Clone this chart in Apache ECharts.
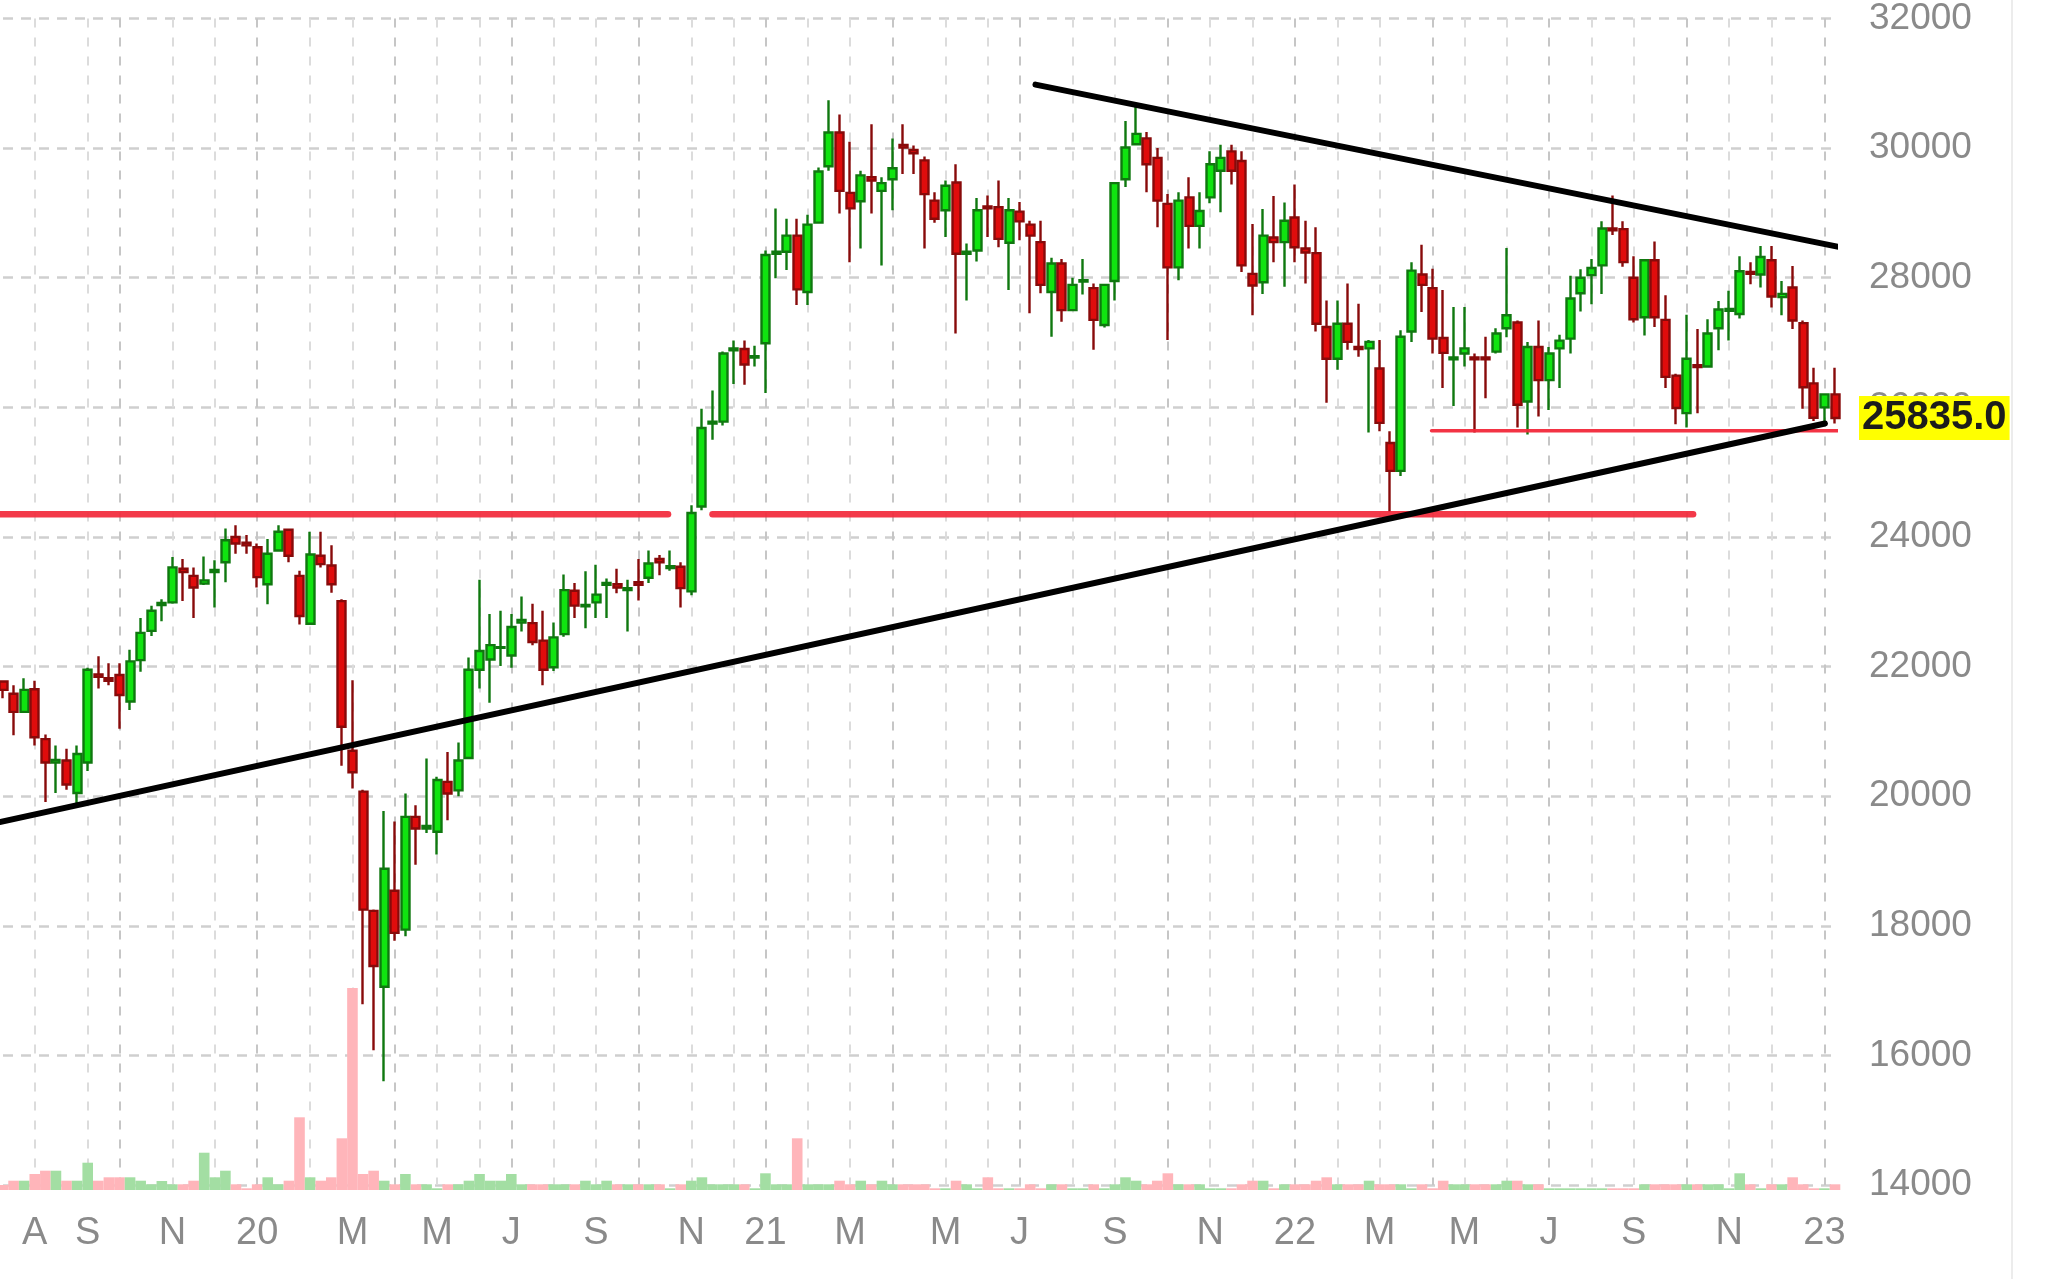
<!DOCTYPE html>
<html><head><meta charset="utf-8">
<script src="https://cdn.jsdelivr.net/npm/echarts@6/dist/echarts.min.js"></script>
<style>html,body{margin:0;padding:0;background:#fff}#c{width:2047px;height:1279px}</style>
</head><body><div id="c"></div>
<script>
// Weekly OHLC (one candle per week)
const opens = [21770,21580,21300,21650,20880,20520,20550,20050,20520,21880,
21820,21870,21460,22100,22550,22950,22990,23510,23400,23280,
23460,23610,24000,23910,23840,23270,23790,24110,23400,22660,
23710,23560,23010,20700,20070,18230,17060,18540,17940,19680,
19500,19450,20220,20090,20590,21950,22110,22290,22170,22680,
22670,22400,21990,22500,23170,22930,22990,23260,23270,23180,
23300,23370,23660,23520,23540,23160,24470,25750,25780,26880,
26900,26770,26990,28370,28400,28650,27780,28850,29720,30240,
29310,29180,29550,29340,29520,30050,29970,29810,29190,29040,
29470,28370,28420,29100,29090,28540,29020,28820,28550,27780,
28220,27500,27940,27840,27270,27950,29520,30060,30150,29850,
29140,28160,29240,28800,29240,29650,29950,29800,28060,27930,
28620,28550,28930,28450,28380,27240,26750,27290,26930,26910,
26600,25450,25020,27170,28050,27840,27070,26740,26830,26770,
26770,26860,27220,27310,26090,26930,26420,26910,27060,27760,
28040,28190,28760,28750,28000,27390,28270,27350,26490,25910,
26650,26630,27220,27490,27440,28090,28050,28270,27700,27850,
27300,26370,26000,26200];
const closes = [21640,21300,21640,20910,20520,20560,20180,20650,21950,21840,
21780,21560,22080,22520,22860,22980,23530,23460,23220,23330,
23490,23950,23900,23870,23380,23740,24080,23710,22780,23730,
23580,23270,21070,20370,18250,17380,18880,17890,19680,19500,
19540,20250,20040,20550,21950,22240,22330,22300,22610,22720,
22380,21950,22450,23180,22940,22950,23110,23290,23220,23210,
23260,23590,23610,23550,23210,24370,25680,25780,26830,26910,
26660,26790,28350,28400,28650,27820,28820,29640,30240,29340,
29070,29580,29500,29460,29690,30010,29920,29290,28910,29420,
28370,28400,29040,29070,28600,29040,28870,28650,27890,28220,
27500,27890,27960,27350,27890,29460,30010,30220,29750,29190,
28160,29190,28800,29030,29750,29850,29650,28190,27880,28650,
28550,28880,28470,28390,27290,26750,27290,27010,26900,27010,
25760,25020,27090,28110,27890,27060,26840,26770,26910,26740,
26740,27140,27420,26040,26930,26420,26830,27030,27680,28000,
28150,28760,28730,28240,27360,28270,27390,26470,25990,26750,
26620,27140,27510,27520,28100,28060,28320,27710,27750,27340,
26310,25840,26200,25835];
const lows = [21510,20940,21300,20780,19910,20050,20100,19860,20390,21660,
21710,21040,21330,21920,22470,22700,22970,23010,22750,23260,
22910,23300,23740,23740,23220,22960,23770,23610,22650,22660,
23530,23140,20470,20120,16790,16080,15600,17770,17840,18940,
19430,19100,19630,20000,20590,21660,21440,22010,21980,22540,
22330,21710,21930,22460,22750,22590,22750,22750,23130,22540,
23020,23290,23410,23480,22910,23100,24410,25500,25720,26360,
26350,26630,26220,27990,28120,27580,27580,28850,29650,28990,
28240,28450,28990,28190,29040,29600,29600,28450,28850,28630,
27140,27650,28250,28630,28470,27810,28580,27450,27760,27090,
27320,27500,27740,26890,27230,27650,29400,30060,29320,28780,
27040,27960,28450,28450,29150,29010,29440,28090,27420,27750,
28240,27860,28240,27910,27170,26070,26580,26890,26780,25610,
25630,24380,24940,27010,27470,26830,26300,26020,26630,25610,
26140,26830,27080,25690,25580,25860,25960,26300,26830,27480,
27590,27750,28660,28170,27310,27110,27240,26300,25740,25690,
25910,26630,26880,27030,27370,27900,27850,27540,27420,27210,
25980,25790,25740,25750];
const highs = [21780,21710,21820,21780,20950,20780,20730,20780,21980,22160,
22050,22050,22260,22750,22940,23040,23690,23660,23530,23700,
23640,24130,24180,24030,23900,23970,24180,24120,23480,24080,
24080,23870,23040,21790,20100,18250,19770,19610,20040,19860,
20580,20300,20680,20830,22140,23340,22810,22860,22810,23080,
22970,22860,22680,23420,23290,23470,23570,23360,23510,23340,
23660,23790,23720,23790,23610,24490,25980,26260,26860,27030,
27030,26950,28420,29070,28910,28910,28970,29700,30740,30520,
30100,29650,30370,29550,30150,30370,30040,29870,29320,29500,
29750,28530,29230,29270,29500,29230,29170,28880,28880,28310,
28290,28000,28290,27910,27890,29460,30420,30650,30250,30000,
29290,29320,29550,29320,29950,30050,30050,29950,28830,29060,
29260,29160,29440,28880,28780,27650,27650,27910,27600,27040,
27040,25630,27190,28240,28510,28140,27810,27550,27550,26830,
27090,27220,28460,27340,27010,27340,26930,27120,28030,28130,
28290,28870,29270,28870,28330,28270,28560,27730,26520,27430,
27210,27360,27640,27800,28330,28240,28490,28490,27950,28180,
27340,26610,26200,26610];
const volumes = [50,93,93,160,193,193,93,93,273,93,
127,127,127,93,57,90,57,57,93,373,
127,193,57,17,57,127,57,93,727,127,
93,127,517,2020,160,193,93,57,160,57,
57,17,57,57,93,160,93,93,160,57,
57,57,57,57,57,93,57,93,57,57,
57,57,57,17,57,93,127,57,57,57,
57,17,167,57,57,517,57,57,57,93,
57,93,57,93,57,57,57,57,17,17,
93,57,17,127,17,17,17,57,17,57,
57,17,17,57,17,57,127,93,57,93,
167,57,57,57,17,17,17,57,93,93,
17,57,57,57,93,127,57,57,57,93,
57,57,57,17,57,17,93,57,57,57,
57,57,93,93,57,57,17,17,17,17,
17,17,17,17,17,57,57,57,57,57,
57,57,57,17,167,57,17,57,57,127,
57,17,17,57];

// x-axis tick labels (week index -> text) and month grid lines
const tickIdx  = [3,8,16,24,33,41,48,56,65,72,80,89,96,105,114,122,130,138,146,154,163,172];
const tickText = ['A','S','N','20','M','M','J','S','N','21','M','M','J','S','N','22','M','M','J','S','N','23'];
const quarterIdx = [11,24,37,48,60,72,84,96,110,122,135,146,159,172];
const monthIdx = [3,8,16,20,29,33,41,45,52,56,65,69,76,80,89,93,101,105,114,118,126,130,138,142,150,154,163,167];

// drawn annotations: [weekIndex, price]
const lowerTrend = [[-0.31,19600],[172.05,25750]];
const upperTrend = [[97.5,30980],[173.5,28470]];
const supportLongA = [[-0.31,24350],[62.8,24350]];
const supportLongB = [[67,24350],[159.6,24350]];
const supportShort = [[134.9,25640],[174.1,25640]];
const lastPrice = 25835;

const weeks = opens.map((_, i) => String(i));
const candleData = opens.map((o, i) => [o, closes[i], lows[i], highs[i]]);
const volData = volumes.map((v, i) => ({
  value: v,
  itemStyle: { color: closes[i] >= opens[i] ? '#a3dea3' : '#ffb5ba' }
}));

const FONT = 'Liberation Sans, Arial, Helvetica, sans-serif';
const chart = echarts.init(document.getElementById('c'), null, { renderer: 'canvas' });

function trend(data, color, width) {
  return {
    type: 'line', xAxisIndex: 2, yAxisIndex: 0, data: data,
    symbol: 'none', silent: true, clip: false, z: 5,
    lineStyle: { color: color, width: width, cap: 'round' }
  };
}

chart.setOption({
  animation: false,
  backgroundColor: '#ffffff',
  textStyle: { fontFamily: FONT },
  grid: [
    { left: 3, right: 212, top: 16, bottom: 94, containLabel: false },
    { left: 3, right: 212, top: 980, bottom: 89, containLabel: false }
  ],
  xAxis: [
    {
      type: 'category', gridIndex: 0, data: weeks, boundaryGap: false,
      axisLine: { show: false }, axisTick: { show: false },
      axisLabel: {
        interval: (i) => tickIdx.includes(i),
        formatter: (v, i) => tickText[tickIdx.indexOf(i)],
        color: '#8a8a8a', fontSize: 38, margin: 30, fontFamily: FONT
      },
      splitLine: { show: true, interval: (i) => quarterIdx.includes(i),
        lineStyle: { color: '#c6c6c6', width: 2, type: [9, 10] } }
    },
    {
      type: 'category', gridIndex: 0, data: weeks, boundaryGap: false,
      axisLine: { show: false }, axisTick: { show: false }, axisLabel: { show: false },
      splitLine: { show: true, interval: (i) => monthIdx.includes(i),
        lineStyle: { color: '#dcdcdc', width: 2, type: [9, 10] } }
    },
    { type: 'value', gridIndex: 0, min: 0, max: 173, show: false },
    { type: 'category', gridIndex: 1, data: weeks, boundaryGap: false, show: false }
  ],
  yAxis: [
    {
      type: 'value', gridIndex: 0, position: 'right', min: 14000, max: 32000, interval: 2000,
      axisLine: { show: false }, axisTick: { show: false },
      axisLabel: { color: '#8a8a8a', fontSize: 37, margin: 34, fontFamily: FONT,
        formatter: (v) => String(v) },
      splitLine: { show: true, lineStyle: { color: '#cfcfcf', width: 2.5, type: [10, 8] } }
    },
    { type: 'value', gridIndex: 1, min: 0, max: 2100, show: false }
  ],
  graphic: [
    { type: 'line', silent: true, shape: { x1: 2012, y1: 0, x2: 2012, y2: 1279 },
      style: { stroke: '#ececec', lineWidth: 2 } }
  ],
  series: [
    {
      type: 'bar', xAxisIndex: 3, yAxisIndex: 1, data: volData,
      barWidth: 10.6, silent: true, z: 1
    },
    {
      type: 'candlestick', xAxisIndex: 0, yAxisIndex: 0, data: candleData,
      barWidth: 8.5, silent: true, z: 3,
      itemStyle: {
        color: '#10e410', color0: '#e00c0c',
        borderColor: '#0f780f', borderColor0: '#880a0a', borderWidth: 2.4
      },
      markLine: {
        silent: true, symbol: ['none', 'none'], animation: false,
        lineStyle: { color: 'rgba(0,0,0,0)', width: 0 },
        data: [{ yAxis: lastPrice }],
        label: {
          show: true, position: 'end', distance: 24,
          formatter: () => lastPrice.toFixed(1),
          backgroundColor: '#ffff00', color: '#1c1c1c', fontWeight: 'bold',
          fontSize: 40, fontFamily: FONT, padding: [3, 3, 1, 3]
        }
      }
    },
    trend(supportLongA, 'rgba(242,40,58,0.92)', 6.5),
    trend(supportLongB, 'rgba(242,40,58,0.92)', 6.5),
    trend(supportShort, 'rgba(242,40,58,0.95)', 3.5),
    trend(lowerTrend, '#000000', 6),
    trend(upperTrend, '#000000', 6)
  ]
});
</script>
</body></html>
